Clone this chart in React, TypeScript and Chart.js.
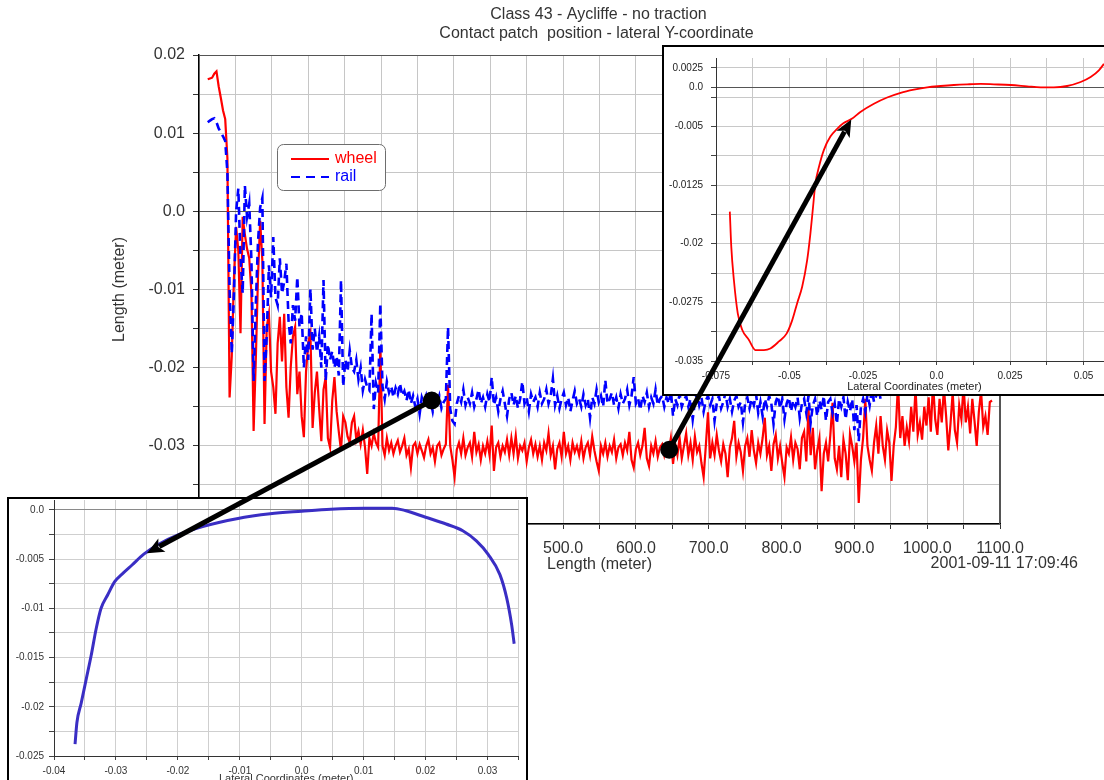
import { useEffect, useRef } from 'react';
import { Chart, registerables } from 'chart.js';

Chart.register(...registerables);

const FONT = '"Liberation Sans", Arial, Helvetica, sans-serif';

// ---------- main chart data (length in m, lateral position in m) ----------
const lengthStart = 12;
const lengthStep = 3;

const wheelY = [
  0.0169, 0.0170, 0.0171, 0.0176, 0.0179, 0.0160, 0.0145, 0.0129, 0.0118, 0.0068,
  -0.0238, -0.0185, -0.0085, -0.0020, -0.0050, -0.0156, -0.0007, -0.0030, -0.0048, -0.0060,
  -0.0105, -0.0281, -0.0190, -0.0084, -0.0012, -0.0063, -0.0272, -0.0148, -0.0131, -0.0205,
  -0.0225, -0.0259, -0.0169, -0.0135, -0.0192, -0.0131, -0.0225, -0.0264, -0.0199, -0.0160,
  -0.0148, -0.0234, -0.0205, -0.0262, -0.0289, -0.0205, -0.0168, -0.0156, -0.0277, -0.0232,
  -0.0205, -0.0252, -0.0294, -0.0228, -0.0212, -0.0290, -0.0302, -0.0242, -0.0212, -0.0256,
  -0.0282, -0.0306, -0.0262, -0.0270, -0.0288, -0.0296, -0.0270, -0.0262, -0.0292, -0.0281,
  -0.0298, -0.0280, -0.0302, -0.0336, -0.0290, -0.0300, -0.0284, -0.0296, -0.0302, -0.0174,
  -0.0300, -0.0312, -0.0290, -0.0306, -0.0296, -0.0310, -0.0300, -0.0293, -0.0308, -0.0300,
  -0.0290, -0.0312, -0.0304, -0.0328, -0.0300, -0.0296, -0.0310, -0.0298, -0.0306, -0.0315,
  -0.0300, -0.0292, -0.0310, -0.0302, -0.0320, -0.0300, -0.0296, -0.0312, -0.0304, -0.0298,
  -0.0222, -0.0300, -0.0318, -0.0340, -0.0305, -0.0296, -0.0310, -0.0290, -0.0312, -0.0302,
  -0.0296, -0.0314, -0.0282, -0.0308, -0.0298, -0.0318, -0.0300, -0.0310, -0.0294, -0.0312,
  -0.0274, -0.0332, -0.0302, -0.0296, -0.0314, -0.0300, -0.0308, -0.0292, -0.0312, -0.0290,
  -0.0310, -0.0287, -0.0316, -0.0300, -0.0306, -0.0296, -0.0320, -0.0302, -0.0292, -0.0310,
  -0.0298, -0.0314, -0.0300, -0.0318, -0.0296, -0.0306, -0.0284, -0.0312, -0.0300, -0.0330,
  -0.0304, -0.0296, -0.0314, -0.0282, -0.0310, -0.0300, -0.0318, -0.0296, -0.0308, -0.0300,
  -0.0312, -0.0294, -0.0316, -0.0302, -0.0296, -0.0312, -0.0288, -0.0306, -0.0320, -0.0332,
  -0.0300, -0.0310, -0.0296, -0.0314, -0.0300, -0.0308, -0.0292, -0.0316, -0.0302, -0.0298,
  -0.0312, -0.0296, -0.0306, -0.0282, -0.0318, -0.0328, -0.0304, -0.0296, -0.0312, -0.0300,
  -0.0277, -0.0316, -0.0326, -0.0300, -0.0310, -0.0294, -0.0314, -0.0302, -0.0298, -0.0312,
  -0.0300, -0.0308, -0.0290, -0.0323, -0.0298, -0.0312, -0.0290, -0.0316, -0.0300, -0.0284,
  -0.0312, -0.0296, -0.0318, -0.0288, -0.0308, -0.0300, -0.0322, -0.0340, -0.0300, -0.0257,
  -0.0316, -0.0296, -0.0312, -0.0286, -0.0306, -0.0320, -0.0298, -0.0310, -0.0340, -0.0302,
  -0.0290, -0.0268, -0.0314, -0.0296, -0.0308, -0.0332, -0.0300, -0.0290, -0.0314, -0.0280,
  -0.0306, -0.0322, -0.0296, -0.0310, -0.0290, -0.0264, -0.0312, -0.0300, -0.0332, -0.0298,
  -0.0286, -0.0316, -0.0300, -0.0322, -0.0340, -0.0302, -0.0310, -0.0289, -0.0318, -0.0296,
  -0.0304, -0.0330, -0.0290, -0.0282, -0.0320, -0.0252, -0.0312, -0.0277, -0.0330, -0.0306,
  -0.0290, -0.0358, -0.0310, -0.0296, -0.0320, -0.0286, -0.0245, -0.0316, -0.0330, -0.0300,
  -0.0340, -0.0292, -0.0310, -0.0344, -0.0285, -0.0300, -0.0320, -0.0296, -0.0373, -0.0318,
  -0.0290, -0.0240, -0.0300, -0.0318, -0.0332, -0.0296, -0.0274, -0.0310, -0.0262, -0.0300,
  -0.0318, -0.0280, -0.0296, -0.0345, -0.0300, -0.0276, -0.0220, -0.0290, -0.0262, -0.0300,
  -0.0276, -0.0294, -0.0250, -0.0282, -0.0226, -0.0286, -0.0270, -0.0292, -0.0250, -0.0274,
  -0.0238, -0.0282, -0.0218, -0.0266, -0.0286, -0.0240, -0.0270, -0.0226, -0.0262, -0.0306,
  -0.0272, -0.0232, -0.0280, -0.0296, -0.0248, -0.0266, -0.0222, -0.0270, -0.0250, -0.0284,
  -0.0240, -0.0268, -0.0300, -0.0256, -0.0230, -0.0276, -0.0262, -0.0286, -0.0244, -0.0242,
];

const railY = [
  0.0114, 0.0116, 0.0118, 0.0119, 0.0114, 0.0106, 0.0101, 0.0096, 0.0090, 0.0050,
  -0.0100, -0.0182, -0.0105, 0.0000, 0.0029, -0.0060, -0.0105, 0.0033, -0.0007, 0.0010,
  -0.0063, -0.0217, -0.0120, -0.0040, 0.0005, 0.0017, -0.0217, -0.0160, -0.0069, -0.0110,
  -0.0033, -0.0110, -0.0120, -0.0060, -0.0105, -0.0090, -0.0067, -0.0140, -0.0169, -0.0120,
  -0.0140, -0.0084, -0.0148, -0.0130, -0.0200, -0.0160, -0.0190, -0.0099, -0.0177, -0.0150,
  -0.0180, -0.0160, -0.0200, -0.0088, -0.0217, -0.0170, -0.0190, -0.0179, -0.0200, -0.0185,
  -0.0210, -0.0088, -0.0224, -0.0190, -0.0205, -0.0178, -0.0200, -0.0205, -0.0190, -0.0215,
  -0.0200, -0.0229, -0.0215, -0.0225, -0.0229, -0.0131, -0.0253, -0.0220, -0.0232, -0.0118,
  -0.0224, -0.0240, -0.0218, -0.0232, -0.0224, -0.0238, -0.0226, -0.0234, -0.0220, -0.0236,
  -0.0230, -0.0242, -0.0228, -0.0246, -0.0236, -0.0250, -0.0240, -0.0259, -0.0238, -0.0246,
  -0.0236, -0.0248, -0.0242, -0.0256, -0.0240, -0.0246, -0.0236, -0.0252, -0.0244, -0.0240,
  -0.0148, -0.0253, -0.0268, -0.0272, -0.0246, -0.0236, -0.0244, -0.0228, -0.0248, -0.0238,
  -0.0246, -0.0232, -0.0250, -0.0240, -0.0228, -0.0246, -0.0238, -0.0250, -0.0234, -0.0244,
  -0.0212, -0.0248, -0.0238, -0.0256, -0.0240, -0.0230, -0.0246, -0.0262, -0.0240, -0.0232,
  -0.0248, -0.0236, -0.0252, -0.0240, -0.0218, -0.0246, -0.0238, -0.0256, -0.0234, -0.0244,
  -0.0238, -0.0250, -0.0232, -0.0246, -0.0240, -0.0228, -0.0246, -0.0236, -0.0214, -0.0248,
  -0.0236, -0.0252, -0.0240, -0.0232, -0.0248, -0.0238, -0.0256, -0.0242, -0.0230, -0.0246,
  -0.0240, -0.0250, -0.0234, -0.0248, -0.0240, -0.0264, -0.0238, -0.0246, -0.0228, -0.0244,
  -0.0236, -0.0250, -0.0216, -0.0246, -0.0240, -0.0232, -0.0248, -0.0238, -0.0252, -0.0234,
  -0.0246, -0.0240, -0.0228, -0.0248, -0.0236, -0.0212, -0.0246, -0.0240, -0.0254, -0.0236,
  -0.0244, -0.0232, -0.0250, -0.0238, -0.0246, -0.0228, -0.0248, -0.0240, -0.0236, -0.0250,
  -0.0238, -0.0246, -0.0230, -0.0262, -0.0240, -0.0248, -0.0234, -0.0250, -0.0242, -0.0236,
  -0.0250, -0.0240, -0.0266, -0.0244, -0.0232, -0.0248, -0.0238, -0.0256, -0.0242, -0.0236,
  -0.0248, -0.0240, -0.0268, -0.0246, -0.0236, -0.0252, -0.0244, -0.0232, -0.0250, -0.0240,
  -0.0256, -0.0242, -0.0236, -0.0250, -0.0244, -0.0270, -0.0246, -0.0238, -0.0252, -0.0240,
  -0.0248, -0.0234, -0.0258, -0.0244, -0.0262, -0.0240, -0.0250, -0.0236, -0.0246, -0.0272,
  -0.0244, -0.0236, -0.0252, -0.0240, -0.0266, -0.0246, -0.0238, -0.0256, -0.0242, -0.0250,
  -0.0238, -0.0264, -0.0246, -0.0240, -0.0258, -0.0236, -0.0270, -0.0248, -0.0240, -0.0262,
  -0.0242, -0.0254, -0.0236, -0.0268, -0.0244, -0.0240, -0.0258, -0.0246, -0.0272, -0.0240,
  -0.0250, -0.0238, -0.0266, -0.0244, -0.0256, -0.0240, -0.0280, -0.0248, -0.0294, -0.0250,
  -0.0240, -0.0256, -0.0234, -0.0248, -0.0228, -0.0244, -0.0236, -0.0226, -0.0240, -0.0230,
  -0.0222, -0.0236, -0.0218, -0.0230, -0.0224, -0.0214, -0.0228, -0.0220, -0.0212, -0.0224,
  -0.0216, -0.0208, -0.0222, -0.0212, -0.0204, -0.0218, -0.0210, -0.0200, -0.0214, -0.0206,
  -0.0198, -0.0210, -0.0202, -0.0194, -0.0206, -0.0198, -0.0190, -0.0204, -0.0196, -0.0188,
  -0.0200, -0.0192, -0.0184, -0.0196, -0.0188, -0.0180, -0.0194, -0.0186, -0.0178, -0.0190,
  -0.0182, -0.0176, -0.0188, -0.0180, -0.0172, -0.0184, -0.0176, -0.0170, -0.0180, -0.0174,
];

const seriesNames = ['wheel', 'rail'];
const titleLines = ['Class 43 - Aycliffe - no traction', 'Contact patch  position - lateral Y-coordinate'];
const timestamp = '2001-09-11 17:09:46';

// ---------- inset: wheel contact (top right) ----------
const wheelProfileX = [
  -0.0703, -0.0698, -0.0689, -0.0676, -0.0661, -0.0638, -0.0616, -0.0587, -0.0565, -0.0536,
  -0.0510, -0.0491, -0.0474, -0.0457, -0.0440, -0.0429, -0.0420, -0.0412, -0.0400, -0.0383,
  -0.0361, -0.0338, -0.0317, -0.0287, -0.0259, -0.0213, -0.0168, -0.0122, -0.0077, -0.0032,
  0.0014, 0.0059, 0.0104, 0.0150, 0.0195, 0.0252, 0.0308, 0.0354, 0.0399, 0.0444,
  0.0490, 0.0524, 0.0552, 0.0569,
];
const wheelProfileY = [
  -0.0159, -0.0204, -0.0247, -0.0289, -0.0310, -0.0323, -0.0336, -0.0336, -0.0334, -0.0325,
  -0.0315, -0.0298, -0.0276, -0.0255, -0.0221, -0.0187, -0.0153, -0.0123, -0.0102, -0.0080,
  -0.0063, -0.0053, -0.0046, -0.0040, -0.00315, -0.0021, -0.0013, -0.0007, -0.0003, 0.0,
  0.00017, 0.0003, 0.00038, 0.00043, 0.00038, 0.0003, 0.00013, 0.0, 0.0, 0.00017,
  0.00068, 0.00132, 0.00217, 0.0030,
];
const trXTicks = [-0.075, -0.0625, -0.05, -0.0375, -0.025, -0.0125, 0, 0.0125, 0.025, 0.0375, 0.05];
const trXLabels = ['-0.075', '', '-0.05', '', '-0.025', '', '0.0', '', '0.025', '', '0.05'];
const trYTicks = [-0.035, -0.03125, -0.0275, -0.02375, -0.02, -0.01625, -0.0125, -0.00875, -0.005, -0.00125, 0, 0.0025];
const trYLabels = ['-0.035', '', '-0.0275', '', '-0.02', '', '-0.0125', '', '-0.005', '', '0.0', '0.0025'];

// ---------- inset: rail contact (bottom left) ----------
const railProfileX = [
  -0.0366, -0.0363, -0.0356, -0.0348, -0.0340, -0.0332, -0.0324, -0.0313, -0.0302, -0.0288,
  -0.0274, -0.0255, -0.0231, -0.0198, -0.0160, -0.0105, -0.0051, 0.0, 0.0047, 0.0102,
  0.0146, 0.0167, 0.0200, 0.0233, 0.0260, 0.0282, 0.0301, 0.0320, 0.0331, 0.0339, 0.0343,
];
const railProfileY = [
  -0.0238, -0.0216, -0.0196, -0.0172, -0.0148, -0.0121, -0.0100, -0.0086, -0.0073, -0.0064,
  -0.0056, -0.0045, -0.0035, -0.0025, -0.0017, -0.0009, -0.0004, -0.00014, 0.00007, 0.00017,
  0.00017, -0.00007, -0.00075, -0.00144, -0.00212, -0.00315, -0.00452, -0.00658, -0.00897, -0.0117, -0.0136,
];
const blXTicks = [-0.04, -0.035, -0.03, -0.025, -0.02, -0.015, -0.01, -0.005, 0, 0.005, 0.01, 0.015, 0.02, 0.025, 0.03, 0.035];
const blXLabels = ['-0.04', '', '-0.03', '', '-0.02', '', '-0.01', '', '0.0', '', '0.01', '', '0.02', '', '0.03', ''];
const blYTicks = [-0.025, -0.0225, -0.02, -0.0175, -0.015, -0.0125, -0.01, -0.0075, -0.005, -0.0025, 0];
const blYLabels = ['-0.025', '', '-0.02', '', '-0.015', '', '-0.01', '', '-0.005', '', '0.0'];

// arrows: [length, lateral] on main chart -> [x, y] on inset
const arrowRailFrom = [319.6, -0.0242];
const arrowRailTo = [-0.025, -0.0044];
const arrowWheelFrom = [645.8, -0.0305];
const arrowWheelTo = [-0.029, -0.0041];

const isZero = (v: number) => Math.abs(v) < 1e-9;

export default function App() {
  const mainRef = useRef<HTMLCanvasElement>(null);
  const trRef = useRef<HTMLCanvasElement>(null);
  const blRef = useRef<HTMLCanvasElement>(null);
  const ovRef = useRef<HTMLCanvasElement>(null);

  useEffect(() => {
    const wheelPts = wheelY.map((y, i) => ({ x: lengthStart + i * lengthStep, y }));
    const railPts = railY.map((y, i) => ({ x: lengthStart + i * lengthStep, y }));

    const mainDecor = {
      id: 'mainDecor',
      afterDraw(chart: any) {
        const { ctx, chartArea: a } = chart;
        ctx.save();
        ctx.strokeStyle = '#555';
        ctx.lineWidth = 1;
        ctx.beginPath();
        ctx.moveTo(a.left, a.top + 0.5);
        ctx.lineTo(a.right, a.top + 0.5);
        ctx.moveTo(a.right - 0.5, a.top);
        ctx.lineTo(a.right - 0.5, a.bottom);
        ctx.stroke();

        ctx.fillStyle = '#333';
        ctx.font = `16px ${FONT}`;
        ctx.textAlign = 'center';
        ctx.textBaseline = 'middle';
        const cx = (a.left + a.right) / 2;
        ctx.fillText(titleLines[0], cx - 1, a.top - 40);
        ctx.fillText(titleLines[1], cx - 3, a.top - 21);
        ctx.textAlign = 'right';
        ctx.fillText(timestamp, a.right + 78, a.bottom + 40);

        // legend
        const lx = a.left + 78, ly = a.top + 89, lw = 108, lh = 46;
        ctx.beginPath();
        ctx.roundRect(lx + 0.5, ly + 0.5, lw, lh, 6);
        ctx.fillStyle = '#fff';
        ctx.fill();
        ctx.strokeStyle = '#6e6e6e';
        ctx.lineWidth = 1;
        ctx.stroke();
        const ds = chart.data.datasets;
        [0, 1].forEach((k) => {
          const y = ly + 15 + k * 18;
          ctx.beginPath();
          ctx.strokeStyle = ds[k].borderColor;
          ctx.lineWidth = 2;
          ctx.setLineDash(k === 1 ? [9, 6] : []);
          ctx.moveTo(lx + 14, y);
          ctx.lineTo(lx + 52, y);
          ctx.stroke();
          ctx.setLineDash([]);
          ctx.fillStyle = ds[k].borderColor;
          ctx.textAlign = 'left';
          ctx.fillText(seriesNames[k], lx + 58, y);
        });
        ctx.restore();
      },
    };

    const main = new Chart(mainRef.current as HTMLCanvasElement, {
      type: 'line',
      data: {
        datasets: [
          { label: seriesNames[0], data: wheelPts, borderColor: '#ff0000', borderWidth: 2.2, pointRadius: 0, order: 2, tension: 0 },
          { label: seriesNames[1], data: railPts, borderColor: '#0000ff', borderWidth: 2.6, borderDash: [8, 5], pointRadius: 0, order: 1, tension: 0 },
        ],
      },
      options: {
        animation: false,
        responsive: false,
        events: [],
        layout: { padding: { left: 106, top: 55, right: 104, bottom: 0 } },
        plugins: { legend: { display: false }, tooltip: { enabled: false }, title: { display: false } },
        scales: {
          x: {
            type: 'linear',
            min: 0,
            max: 1100,
            afterFit: (s: any) => { s.height = 54; },
            ticks: {
              stepSize: 50,
              autoSkip: false,
              maxRotation: 0,
              padding: 10,
              color: '#333',
              font: { family: FONT, size: 16 },
              callback: (v: any) => (Math.round(v / 50) % 2 === 0 ? Number(v).toFixed(1) : ''),
            },
            grid: { color: (c: any) => (c.tick && c.tick.value >= 1100 ? '#555' : '#c6c6c6'), tickColor: '#333', tickLength: 5 },
            border: { color: '#000', width: 1.5 },
            title: { display: true, text: 'Length (meter)', color: '#333', font: { family: FONT, size: 16 }, padding: { top: 0, bottom: 4 } },
          },
          y: {
            min: -0.04,
            max: 0.02,
            afterFit: (s: any) => { s.width = 93; },
            ticks: {
              stepSize: 0.005,
              autoSkip: false,
              padding: 8,
              color: '#333',
              font: { family: FONT, size: 16 },
              callback: (v: any) => {
                const k = Math.round(v / 0.005);
                if (k % 2 !== 0) return '';
                if (k === 0) return '0.0';
                return (k * 0.005).toFixed(2);
              },
            },
            grid: {
              color: (c: any) => (c.tick && (isZero(c.tick.value) || c.tick.value >= 0.02 - 1e-9) ? '#555' : '#c6c6c6'),
              tickColor: '#333',
              tickLength: 6,
            },
            border: { color: '#000', width: 1.5 },
            title: { display: true, text: 'Length (meter)', color: '#333', font: { family: FONT, size: 16 }, padding: { top: 4, bottom: 4 } },
          },
        },
      },
      plugins: [mainDecor],
    } as any);

    const tr = new Chart(trRef.current as HTMLCanvasElement, {
      type: 'scatter',
      data: {
        datasets: [
          {
            data: wheelProfileX.map((x, i) => ({ x, y: wheelProfileY[i] })),
            showLine: true,
            borderColor: '#ff0000',
            borderWidth: 1.8,
            pointRadius: 0,
            cubicInterpolationMode: 'monotone',
          },
        ],
      },
      options: {
        animation: false,
        responsive: false,
        events: [],
        layout: { padding: { left: 0, top: 11, right: 1, bottom: 0 } },
        plugins: { legend: { display: false }, tooltip: { enabled: false } },
        scales: {
          x: {
            type: 'linear',
            min: -0.075,
            max: 0.06,
            afterBuildTicks: (s: any) => { s.ticks = trXTicks.map((value) => ({ value })); },
            afterFit: (s: any) => { s.height = 33; },
            ticks: { autoSkip: false, maxRotation: 0, padding: 5, color: '#222', font: { family: FONT, size: 10 }, callback: (_v: any, i: number) => trXLabels[i] },
            grid: { color: '#c8c8c8', tickColor: '#444', tickLength: 4 },
            border: { color: '#333', width: 1 },
            title: { display: true, text: 'Lateral Coordinates (meter)', color: '#222', font: { family: FONT, size: 11 }, padding: { top: 0, bottom: 0 } },
          },
          y: {
            type: 'linear',
            min: -0.035,
            max: 0.00375,
            afterBuildTicks: (s: any) => { s.ticks = trYTicks.map((value) => ({ value })); },
            afterFit: (s: any) => { s.width = 52; s.paddingTop = 0; },
            ticks: { autoSkip: false, padding: 8, color: '#222', font: { family: FONT, size: 10 }, callback: (_v: any, i: number) => trYLabels[i] },
            grid: { color: (c: any) => (c.tick && isZero(c.tick.value) ? '#555' : '#c8c8c8'), tickColor: '#444', tickLength: 5 },
            border: { color: '#333', width: 1 },
          },
        },
      },
    } as any);

    const bl = new Chart(blRef.current as HTMLCanvasElement, {
      type: 'scatter',
      data: {
        datasets: [
          {
            data: railProfileX.map((x, i) => ({ x, y: railProfileY[i] })),
            showLine: true,
            borderColor: '#3a2ec4',
            borderWidth: 3,
            pointRadius: 0,
            cubicInterpolationMode: 'monotone',
          },
        ],
      },
      options: {
        animation: false,
        responsive: false,
        events: [],
        layout: { padding: { left: 0, top: 1, right: 7.5, bottom: 0 } },
        plugins: { legend: { display: false }, tooltip: { enabled: false } },
        scales: {
          x: {
            type: 'linear',
            min: -0.04,
            max: 0.035,
            afterBuildTicks: (s: any) => { s.ticks = blXTicks.map((value) => ({ value })); },
            afterFit: (s: any) => { s.height = 33; },
            ticks: { autoSkip: false, maxRotation: 0, padding: 5, color: '#333', font: { family: FONT, size: 10 }, callback: (_v: any, i: number) => blXLabels[i] },
            grid: { color: '#cfcfcf', tickColor: '#444', tickLength: 4 },
            border: { color: '#333', width: 1 },
            title: { display: true, text: 'Lateral Coordinates (meter)', color: '#333', font: { family: FONT, size: 11 }, padding: { top: 0, bottom: 3 } },
          },
          y: {
            type: 'linear',
            min: -0.025,
            max: 0.001,
            afterBuildTicks: (s: any) => { s.ticks = blYTicks.map((value) => ({ value })); },
            afterFit: (s: any) => { s.width = 45; s.paddingTop = 0; },
            ticks: { autoSkip: false, padding: 5, color: '#333', font: { family: FONT, size: 10 }, callback: (_v: any, i: number) => blYLabels[i] },
            grid: { color: (c: any) => (c.tick && isZero(c.tick.value) ? '#8a8a8a' : '#cfcfcf'), tickColor: '#444', tickLength: 5 },
            border: { color: '#333', width: 1 },
          },
        },
      },
    } as any);

    // arrows overlay
    const ov = ovRef.current as HTMLCanvasElement;
    const octx = ov.getContext('2d') as CanvasRenderingContext2D;
    octx.clearRect(0, 0, ov.width, ov.height);
    const pt = (c: any, ox: number, oy: number, v: number[]) => [c.scales.x.getPixelForValue(v[0]) + ox, c.scales.y.getPixelForValue(v[1]) + oy];
    const drawArrow = (from: number[], to: number[]) => {
      const dx = to[0] - from[0];
      const dy = to[1] - from[1];
      const len = Math.hypot(dx, dy);
      const ux = dx / len, uy = dy / len;
      const head = 17, hw = 7.5;
      const bx = to[0] - ux * head, by = to[1] - uy * head;
      octx.save();
      octx.strokeStyle = '#000';
      octx.fillStyle = '#000';
      octx.lineWidth = 5;
      octx.beginPath();
      octx.moveTo(from[0], from[1]);
      octx.lineTo(bx + ux * 3, by + uy * 3);
      octx.stroke();
      octx.beginPath();
      octx.moveTo(to[0], to[1]);
      octx.lineTo(bx - uy * hw, by + ux * hw);
      octx.lineTo(bx + ux * 4, by + uy * 4);
      octx.lineTo(bx + uy * hw, by - ux * hw);
      octx.closePath();
      octx.fill();
      octx.beginPath();
      octx.arc(from[0], from[1], 9, 0, Math.PI * 2);
      octx.fill();
      octx.restore();
    };
    drawArrow(pt(main, 0, 0, arrowRailFrom), pt(bl, 9, 499, arrowRailTo));
    drawArrow(pt(main, 0, 0, arrowWheelFrom), pt(tr, 664, 47, arrowWheelTo));

    return () => {
      main.destroy();
      tr.destroy();
      bl.destroy();
    };
  }, []);

  return (
    <div style={{ position: 'absolute', left: 0, top: 0, width: 1104, height: 780, overflow: 'hidden', background: '#fff' }}>
      <canvas ref={mainRef} width={1104} height={578} style={{ position: 'absolute', left: 0, top: 0 }} />
      <div style={{ position: 'absolute', left: 662, top: 45, width: 460, height: 347, border: '2px solid #000', background: '#fff', overflow: 'hidden' }}>
        <canvas ref={trRef} width={450} height={347} style={{ position: 'absolute', left: 0, top: 0 }} />
      </div>
      <div style={{ position: 'absolute', left: 7, top: 497, width: 517, height: 300, border: '2px solid #000', background: '#fff', overflow: 'hidden' }}>
        <canvas ref={blRef} width={517} height={290} style={{ position: 'absolute', left: 0, top: 0 }} />
      </div>
      <canvas ref={ovRef} width={1104} height={780} style={{ position: 'absolute', left: 0, top: 0, pointerEvents: 'none' }} />
    </div>
  );
}
